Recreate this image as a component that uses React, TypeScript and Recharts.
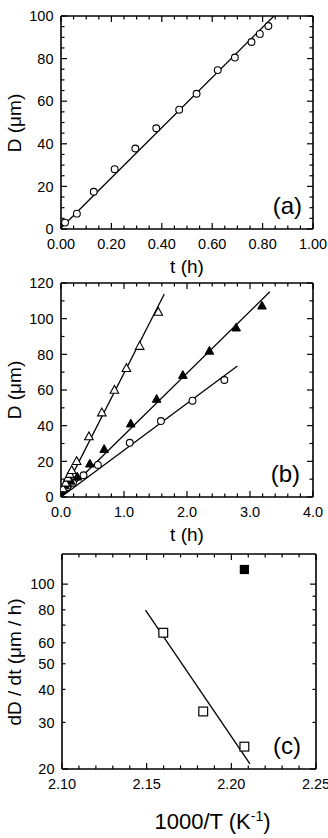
import React from 'react';
import { ScatterChart, Scatter, XAxis, YAxis, Customized } from 'recharts';

const FONT = '"Liberation Sans", Arial, Helvetica, sans-serif';
const W = 328;
const H = 838;

// ---------- Panel (a) ----------
const aTime = [0.016, 0.063, 0.13, 0.213, 0.295, 0.378, 0.469, 0.538, 0.622, 0.69, 0.756, 0.789, 0.823];
const aDiam = [3.0, 7.2, 17.5, 28.1, 37.8, 47.3, 56.0, 63.5, 74.6, 80.5, 87.8, 91.6, 95.3];
const aFitTime = [0, 0.845];
const aFitDiam = [0.5, 100];
const aXLabels = [0, 0.2, 0.4, 0.6, 0.8, 1.0];
const aXMinor = [0.05, 0.1, 0.15, 0.25, 0.3, 0.35, 0.45, 0.5, 0.55, 0.65, 0.7, 0.75, 0.85, 0.9, 0.95];
const aYLabels = [0, 20, 40, 60, 80, 100];
const aYMinor = [5, 10, 15, 25, 30, 35, 45, 50, 55, 65, 70, 75, 85, 90, 95];

// ---------- Panel (b) ----------
const bOpenTriTime = [0.03, 0.074, 0.11, 0.14, 0.17, 0.248, 0.443, 0.648, 0.848, 1.038, 1.249, 1.544];
const bOpenTriDiam = [4.7, 7.9, 10.7, 12.8, 15.0, 20.0, 33.9, 47.3, 60.0, 72.2, 84.6, 103.7];
const bFillTriTime = [0.01, 0.063, 0.153, 0.258, 0.458, 0.685, 1.107, 1.518, 1.934, 2.356, 2.78, 3.19];
const bFillTriDiam = [3.8, 6.6, 9.0, 11.3, 18.6, 26.8, 41.1, 54.9, 68.3, 81.9, 94.9, 107.2];
const bCircTime = [0.03, 0.1, 0.19, 0.358, 0.585, 1.091, 1.586, 2.087, 2.593];
const bCircDiam = [3.8, 5.6, 8.0, 12.2, 18.0, 30.4, 42.6, 54.0, 65.6];
const bFitOpenTriTime = [0, 1.64];
const bFitOpenTriDiam = [0, 113.8];
const bFitFillTriTime = [0, 3.315];
const bFitFillTriDiam = [0, 115.1];
const bFitCircTime = [0, 2.8];
const bFitCircDiam = [0, 73.5];
const bXLabels = [0, 1, 2, 3, 4];
const bXMinor = [0.2, 0.4, 0.6, 0.8, 1.2, 1.4, 1.6, 1.8, 2.2, 2.4, 2.6, 2.8, 3.2, 3.4, 3.6, 3.8];
const bYLabels = [0, 20, 40, 60, 80, 100, 120];
const bYMinor = [10, 30, 50, 70, 90, 110];

// ---------- Panel (c) ----------
const cOpenInvT = [2.1598, 2.1834, 2.2077];
const cOpenRate = [65.5, 33.0, 24.3];
const cFillInvT = [2.2077];
const cFillRate = [113.6];
const cFitInvT = [2.1493, 2.211];
const cFitRate = [79.8, 20.9];
const cXLabels = [2.1, 2.15, 2.2, 2.25];
const cXMinor = [2.11, 2.12, 2.13, 2.14, 2.16, 2.17, 2.18, 2.19, 2.21, 2.22, 2.23, 2.24];
const cYLabels = [20, 30, 40, 50, 60, 80, 100];
const cYMajor = [20, 100];
const cYMinor = [70, 90];

const zip = (xs: number[], ys: number[]) => xs.map((x, i) => ({ x, y: ys[i] }));

const AXIS_LINE = { stroke: '#000', strokeWidth: 1.6 };
const FIT_LINE = { stroke: '#000', strokeWidth: 1.3 };

type Side = 'bottom' | 'top' | 'left' | 'right';

function tickRenderer(side: Side, majors: number[], labels: number[], fmt: (v: number) => string, labelSize = 14.5) {
  return (props: any) => {
    const { x, y, payload } = props;
    const v = payload.value;
    const len = majors.includes(v) ? 6 : 3.5;
    let x2 = x;
    let y2 = y;
    if (side === 'bottom') y2 = y - len;
    if (side === 'top') y2 = y + len;
    if (side === 'left') x2 = x + len;
    if (side === 'right') x2 = x - len;
    const show = labels.includes(v);
    return (
      <g>
        <line x1={x} y1={y} x2={x2} y2={y2} stroke="#000" strokeWidth={1.2} />
        {show && side === 'bottom' && (
          <text x={x} y={y + 19.5} textAnchor="middle" fontSize={labelSize} fontFamily={FONT} fill="#000">
            {fmt(v)}
          </text>
        )}
        {show && side === 'left' && (
          <text x={x - 7.5} y={y} dy="0.36em" textAnchor="end" fontSize={labelSize} fontFamily={FONT} fill="#000">
            {fmt(v)}
          </text>
        )}
      </g>
    );
  };
}

const Empty = () => <g />;
const OpenCircle = (p: any) => <circle cx={p.cx} cy={p.cy} r={3.4} fill="#fff" stroke="#000" strokeWidth={1.1} />;
const OpenTri = (p: any) => (
  <polygon
    points={`${p.cx},${p.cy - 4.6} ${p.cx - 4.3},${p.cy + 3.2} ${p.cx + 4.3},${p.cy + 3.2}`}
    fill="#fff"
    stroke="#000"
    strokeWidth={1.1}
  />
);
const FillTri = (p: any) => (
  <polygon
    points={`${p.cx},${p.cy - 4.6} ${p.cx - 4.3},${p.cy + 3.2} ${p.cx + 4.3},${p.cy + 3.2}`}
    fill="#000"
    stroke="#000"
    strokeWidth={1}
  />
);
const OpenSquare = (p: any) => (
  <rect x={p.cx - 4.4} y={p.cy - 4.4} width={8.8} height={8.8} fill="#fff" stroke="#000" strokeWidth={1.2} />
);
const FillSquare = (p: any) => <rect x={p.cx - 4.6} y={p.cy - 4.6} width={9.2} height={9.2} fill="#000" />;

const txt = { fontFamily: FONT, fill: '#000' };
const TITLE = 19;

interface AxesCfg {
  xDomain: [number, number];
  yDomain: [number, number];
  xTicks: number[];
  xMajors: number[];
  xLabels: number[];
  xFmt: (v: number) => string;
  yTicks: number[];
  yMajors: number[];
  yLabels: number[];
  yFmt: (v: number) => string;
  yLog?: boolean;
  left: number;
}

function axes(c: AxesCfg) {
  const common = { type: 'number' as const, interval: 0 as const, tickSize: 0, tickMargin: 0, tickLine: false, axisLine: AXIS_LINE, allowDataOverflow: true };
  const yScale = c.yLog ? 'log' : 'linear';
  return [
    <XAxis key="xb" xAxisId="b" orientation="bottom" dataKey="x" domain={c.xDomain} ticks={c.xTicks} height={40} tick={tickRenderer('bottom', c.xMajors, c.xLabels, c.xFmt)} {...common} />,
    <XAxis key="xt" xAxisId="t" orientation="top" dataKey="x" domain={c.xDomain} ticks={c.xTicks} height={1} tick={tickRenderer('top', c.xMajors, [], c.xFmt)} {...common} />,
    <YAxis key="yl" yAxisId="l" orientation="left" dataKey="y" scale={yScale} domain={c.yDomain} ticks={c.yTicks} width={c.left} tick={tickRenderer('left', c.yMajors, c.yLabels, c.yFmt)} {...common} />,
    <YAxis key="yr" yAxisId="r" orientation="right" dataKey="y" scale={yScale} domain={c.yDomain} ticks={c.yTicks} width={1} tick={tickRenderer('right', c.yMajors, [], c.yFmt)} {...common} />,
  ];
}

const sortNum = (a: number[], b: number[]) => [...a, ...b].sort((p, q) => p - q);

function PanelA() {
  return (
    <ScatterChart width={W} height={H} margin={{ top: 15, right: 14, bottom: H - 229 - 40, left: 0 }}>
      {axes({
        xDomain: [0, 1],
        yDomain: [0, 100],
        xTicks: sortNum(aXLabels, aXMinor),
        xMajors: aXLabels,
        xLabels: aXLabels,
        xFmt: (v) => v.toFixed(2),
        yTicks: sortNum(aYLabels, aYMinor),
        yMajors: aYLabels,
        yLabels: aYLabels,
        yFmt: (v) => String(v),
        left: 61,
      })}
      <Scatter xAxisId="b" yAxisId="l" data={zip(aFitTime, aFitDiam)} line={FIT_LINE} shape={Empty} isAnimationActive={false} />
      <Scatter xAxisId="b" yAxisId="l" data={zip(aTime, aDiam)} shape={OpenCircle} isAnimationActive={false} />
      <Customized
        component={() => (
          <g>
            <text x={302} y={213.5} textAnchor="end" fontSize={24} {...txt}>(a)</text>
            <text x={187} y={273} textAnchor="middle" fontSize={TITLE} {...txt}>t (h)</text>
            <text x={20.5} y={123} textAnchor="middle" fontSize={TITLE} transform="rotate(-90 20.5 123)" {...txt}>D (μm)</text>
          </g>
        )}
      />
    </ScatterChart>
  );
}

function PanelB() {
  return (
    <ScatterChart width={W} height={H} margin={{ top: 282, right: 14, bottom: H - 497 - 40, left: 0 }}>
      {axes({
        xDomain: [0, 4],
        yDomain: [0, 120],
        xTicks: sortNum(bXLabels, bXMinor),
        xMajors: bXLabels,
        xLabels: bXLabels,
        xFmt: (v) => v.toFixed(1),
        yTicks: sortNum(bYLabels, bYMinor),
        yMajors: bYLabels,
        yLabels: bYLabels,
        yFmt: (v) => String(v),
        left: 61,
      })}
      <Scatter xAxisId="b" yAxisId="l" data={zip(bFitOpenTriTime, bFitOpenTriDiam)} line={FIT_LINE} shape={Empty} isAnimationActive={false} />
      <Scatter xAxisId="b" yAxisId="l" data={zip(bFitFillTriTime, bFitFillTriDiam)} line={FIT_LINE} shape={Empty} isAnimationActive={false} />
      <Scatter xAxisId="b" yAxisId="l" data={zip(bFitCircTime, bFitCircDiam)} line={FIT_LINE} shape={Empty} isAnimationActive={false} />
      <Scatter xAxisId="b" yAxisId="l" data={zip(bCircTime, bCircDiam)} shape={OpenCircle} isAnimationActive={false} />
      <Scatter xAxisId="b" yAxisId="l" data={zip(bFillTriTime, bFillTriDiam)} shape={FillTri} isAnimationActive={false} />
      <Scatter xAxisId="b" yAxisId="l" data={zip(bOpenTriTime, bOpenTriDiam)} shape={OpenTri} isAnimationActive={false} />
      <Customized
        component={() => (
          <g>
            <text x={300} y={482} textAnchor="end" fontSize={24} {...txt}>(b)</text>
            <text x={187} y={540.5} textAnchor="middle" fontSize={TITLE} {...txt}>t (h)</text>
            <text x={20.5} y={390} textAnchor="middle" fontSize={TITLE} transform="rotate(-90 20.5 390)" {...txt}>D (μm)</text>
          </g>
        )}
      />
    </ScatterChart>
  );
}

function PanelC() {
  return (
    <ScatterChart width={W} height={H} margin={{ top: 553, right: 11, bottom: H - 769 - 40, left: 0 }}>
      {axes({
        xDomain: [2.1, 2.25],
        yDomain: [20, 130],
        xTicks: sortNum(cXLabels, cXMinor),
        xMajors: cXLabels,
        xLabels: cXLabels,
        xFmt: (v) => v.toFixed(2),
        yTicks: sortNum(cYLabels, cYMinor),
        yMajors: cYMajor,
        yLabels: cYLabels,
        yFmt: (v) => String(v),
        yLog: true,
        left: 62,
      })}
      <Scatter xAxisId="b" yAxisId="l" data={zip(cFitInvT, cFitRate)} line={FIT_LINE} shape={Empty} isAnimationActive={false} />
      <Scatter xAxisId="b" yAxisId="l" data={zip(cOpenInvT, cOpenRate)} shape={OpenSquare} isAnimationActive={false} />
      <Scatter xAxisId="b" yAxisId="l" data={zip(cFillInvT, cFillRate)} shape={FillSquare} isAnimationActive={false} />
      <Customized
        component={() => (
          <g>
            <text x={301} y={753.5} textAnchor="end" fontSize={24} {...txt}>(c)</text>
            <text x={212.5} y={829} textAnchor="middle" fontSize={22} {...txt}>
              1000/T (K<tspan dy={-8} fontSize={14}>-1</tspan>
              <tspan dy={8}>)</tspan>
            </text>
            <text x={20.5} y={662} textAnchor="middle" fontSize={TITLE} transform="rotate(-90 20.5 662)" {...txt}>dD / dt (μm / h)</text>
          </g>
        )}
      />
    </ScatterChart>
  );
}

export default function App() {
  const layer: React.CSSProperties = { position: 'absolute', left: 0, top: 0 };
  return (
    <div style={{ position: 'absolute', left: 0, top: 0, width: W, height: H, background: '#fff' }}>
      <div style={layer}><PanelA /></div>
      <div style={layer}><PanelB /></div>
      <div style={layer}><PanelC /></div>
    </div>
  );
}
